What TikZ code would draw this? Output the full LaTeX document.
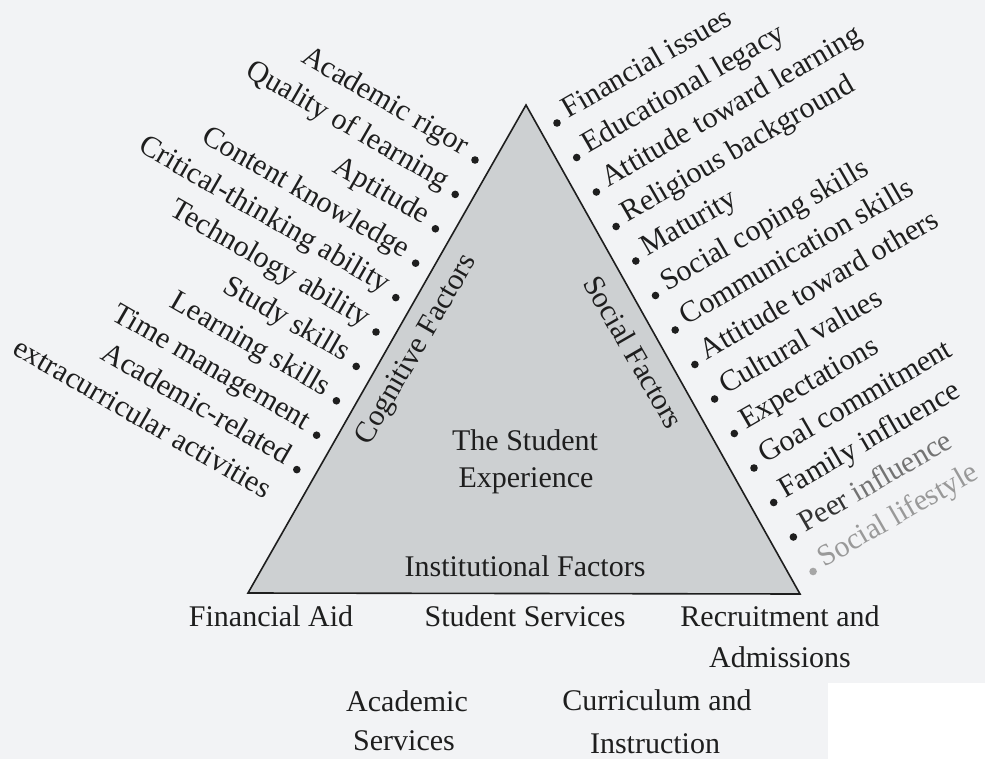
\documentclass[tikz,border=0pt]{standalone}
\usepackage{fontspec}
\setmainfont{Liberation Serif}
\usetikzlibrary{calc}
\definecolor{bgc}{RGB}{242,243,245}
\definecolor{trifill}{RGB}{205,208,210}
\definecolor{ink}{RGB}{30,30,30}
\tikzset{
  lab/.style={font=\fontsize{30}{39.7}\selectfont, text=ink, inner sep=0pt},
  leftlab/.style={lab, rotate=-30, anchor=mid east},
  rightlab/.style={lab, rotate=30, anchor=mid west},
  bigtxt/.style={font=\fontsize{30}{36}\selectfont, text=ink, inner sep=0pt, anchor=base},
  bulletdot/.style={fill=ink},
}
\begin{document}
\begin{tikzpicture}[x=1pt,y=-1pt]
\useasboundingbox (0,0) rectangle (985,759);
\fill[bgc] (0,0) rectangle (985,759);
\fill[white] (828,683) rectangle (985,759);

% triangle
\coordinate (A) at (526,105);
\coordinate (B) at (248,593);
\coordinate (C) at (800,594);
\draw[fill=trifill, draw=ink, line width=1.6pt, line join=miter] (A) -- (B) -- (C) -- cycle;

% left (cognitive) labels
\foreach \t [count=\i from 0] in {Academic rigor, Quality of learning, Aptitude, Content knowledge, Critical-thinking ability, Technology ability, Study skills, Learning skills, Time management, Academic-related}{
  \pgfmathsetmacro\px{475-19.8*\i}
  \pgfmathsetmacro\py{160+34.4*\i}
  \fill[bulletdot] (\px,\py) circle (3.8);
  \node[leftlab] (L\i) at (\px-11.3,\py-6.5) {\t};
}
\node[leftlab] (L10) at (475-19.8*10-11.3,160+34.4*10-6.5) {extracurricular activities};

% right (social) labels
\foreach \t [count=\i from 0] in {Financial issues, Educational legacy, Attitude toward learning, Religious background, Maturity, Social coping skills, Communication skills, Attitude toward others, Cultural values, Expectations, Goal commitment, Family influence}{
  \pgfmathsetmacro\px{557+19.7*\i}
  \pgfmathsetmacro\py{123+34.5*\i}
  \fill[bulletdot] (\px,\py) circle (3.8);
  \node[rightlab] (R\i) at (\px+10.4,\py-6) {\t};
}
\fill[bulletdot] (557+19.7*12,123+34.5*12) circle (3.8);
\node[rightlab] (R12) at (557+19.7*12+10.4,123+34.5*12-6) {{\color{black!80}Peer} {\color{black!55}influence}};
\fill[black!35] (557+19.7*13,123+34.5*13) circle (3.8);
\node[rightlab, text=black!40] (R13) at (557+19.7*13+10.4,123+34.5*13-6) {Social lifestyle};

% inside labels
\node[lab, rotate=60] (cog) at (417,350) {Cognitive Factors};
\node[lab, rotate=-60] (soc) at (634,352) {Social Factors};
\node[bigtxt] (se1) at (525,450) {The Student};
\node[bigtxt] (se2) at (526,487) {Experience};
\node[bigtxt] (inst) at (525,576) {Institutional Factors};

% institutional items
\node[bigtxt] (fa) at (271,626) {Financial Aid};
\node[bigtxt] (ss) at (525,626) {Student Services};
\node[bigtxt] (ra1) at (780,626) {Recruitment and};
\node[bigtxt] (ra2) at (780,667) {Admissions};
\node[bigtxt] (as1) at (407,711) {Academic};
\node[bigtxt] (as2) at (404,750) {Services};
\node[bigtxt] (ci1) at (657,710) {Curriculum and};
\node[bigtxt] (ci2) at (655,753) {Instruction};
\end{tikzpicture}
\end{document}
